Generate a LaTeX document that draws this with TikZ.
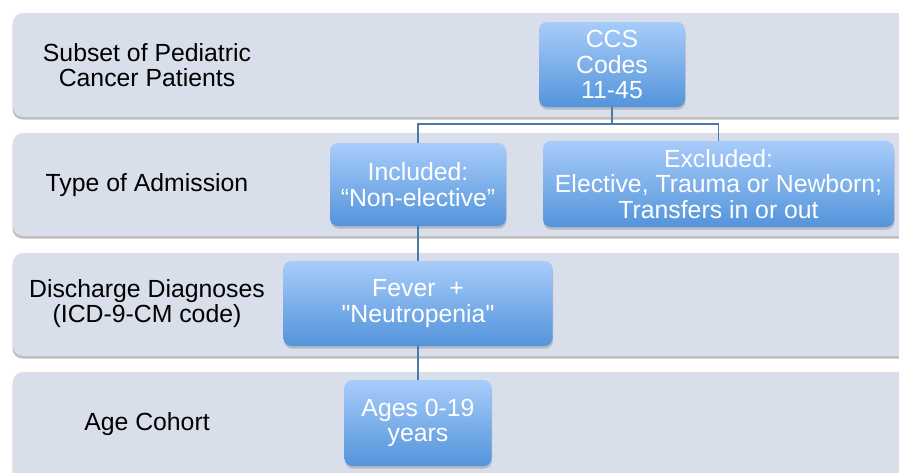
\documentclass[tikz,border=0pt]{standalone}
\usepackage{fontspec}
\setmainfont{Liberation Sans}[Ligatures=TeXOff]
\usetikzlibrary{shadows}

\definecolor{bandgrey}{HTML}{D8DEEA}
\definecolor{boxtop}{HTML}{A8CCFA}
\definecolor{boxbottom}{HTML}{5394DB}
\definecolor{linkblue}{HTML}{4B79AC}

\begin{document}
\begin{tikzpicture}[
		x={(1pt,0pt)},
		y={(0pt,-1pt)},
		band/.style={fill=bandgrey, draw=none, rounded corners=10pt,
			drop shadow={shadow xshift=-0.5pt, shadow yshift=-2.5pt, opacity=0.45, fill=black!55}},
		bluebox/.style={rounded corners=8pt, draw=none, top color=boxtop, bottom color=boxbottom,
			text=white, align=center, inner sep=0pt,
			font=\fontsize{24.8}{25.8}\selectfont,
			drop shadow={shadow xshift=0.5pt, shadow yshift=-2.5pt, opacity=0.3, fill=black!60}},
		rowlabel/.style={align=center, text=black, font=\fontsize{24.8}{25}\selectfont},
		link/.style={draw=linkblue, line width=1.6pt}
	]

		\useasboundingbox (0,0) rectangle (899,472);
		\clip (0,0) rectangle (899,472);

		% grey bands
		\fill [white] (0,0) rectangle (899,472);
		\path [band] (13,13) rectangle (930,117);
		\path [band] (13,133) rectangle (930,236);
		\path [band] (13,253) rectangle (930,356);
		\path [band] (13,372) rectangle (930,500);

		% row labels
		\node [rowlabel] (lsubset) at (147,65) {Subset of Pediatric\\Cancer Patients};
		\node [rowlabel] (ltype) at (147,185.5) {Type of Admission};
		\node [rowlabel] (ldiag) at (147,304) {Discharge Diagnoses\\(ICD-9-CM code)};
		\node [rowlabel] (lage) at (147,424) {Age Cohort};

		% boxes
		\node [bluebox, minimum width=146pt, minimum height=85pt] (ccs) at (612,64.5) {CCS\\Codes\\11-45};
		\node [bluebox, minimum width=176pt, minimum height=83pt] (incl) at (418,184.5) {Included:\\“Non-elective”};
		\node [bluebox, minimum width=351pt, minimum height=86pt] (excl) at (718.5,184) {Excluded:\\Elective, Trauma or Newborn;\\Transfers in or out};
		\node [bluebox, minimum width=269pt, minimum height=85pt] (fever) at (418,303.5) {Fever~~+\\"Neutropenia"};
		\node [bluebox, minimum width=147pt, minimum height=86pt] (ages) at (418,423) {Ages 0-19\\years};

		% connectors
		\coordinate (split) at (612,124);
		\draw [link] (ccs.south) -- (split);
		\draw [link] (split) -| (incl.north);
		\draw [link] (split) -| (excl.north);
		\draw [link] (incl.south) -- (fever.north);
		\draw [link] (fever.south) -- (ages.north);
	\end{tikzpicture}
\end{document}
